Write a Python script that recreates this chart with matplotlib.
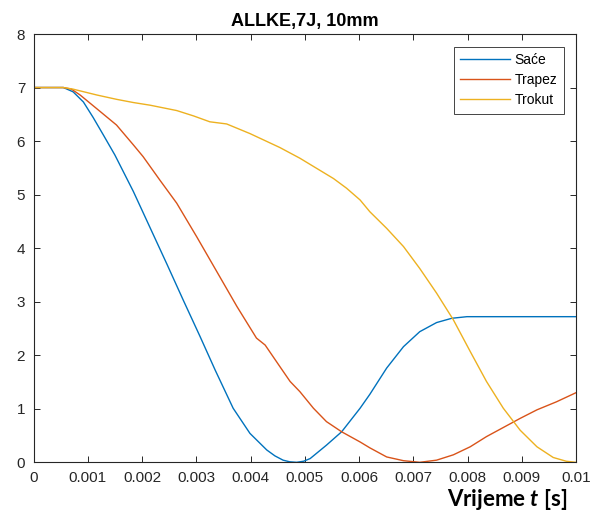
import matplotlib
matplotlib.use("Agg")
import matplotlib.pyplot as plt

# ---- data ----
t_sace = [0, 0.00055, 0.00073, 0.00092, 0.0011, 0.00129, 0.0015, 0.00184, 0.00215,
          0.00246, 0.00276, 0.00307, 0.00335, 0.00368, 0.00399, 0.0043, 0.00445, 0.0046,
          0.00472, 0.00485, 0.00498, 0.0051, 0.0054, 0.00568, 0.00602, 0.0062, 0.00651,
          0.00682, 0.00712, 0.00743, 0.00771, 0.00799, 0.01]
y_sace = [7, 7, 6.92, 6.73, 6.44, 6.11, 5.74, 5.06, 4.38,
          3.70, 3.03, 2.35, 1.72, 1.01, 0.54, 0.23, 0.12, 0.04,
          0.01, 0.0, 0.02, 0.07, 0.32, 0.57, 1.01, 1.27, 1.76,
          2.16, 2.44, 2.61, 2.69, 2.72, 2.72]

t_trapez = [0, 0.00055, 0.0007, 0.00086, 0.00116, 0.00153, 0.00184, 0.00202, 0.00233,
            0.00264, 0.00301, 0.00338, 0.00375, 0.00411, 0.00427, 0.00454, 0.00473, 0.00491,
            0.00516, 0.0054, 0.00568, 0.00602, 0.0062, 0.00651, 0.00682, 0.00712, 0.00743,
            0.00774, 0.00805, 0.00835, 0.00866, 0.00897, 0.00928, 0.00964, 0.01]
y_trapez = [7, 7, 6.97, 6.86, 6.61, 6.30, 5.93, 5.71, 5.27,
            4.84, 4.21, 3.56, 2.91, 2.32, 2.19, 1.79, 1.51, 1.32,
            1.01, 0.76, 0.57, 0.38, 0.27, 0.10, 0.03, 0.0, 0.04,
            0.14, 0.29, 0.48, 0.65, 0.82, 0.98, 1.13, 1.30]

t_trokut = [0, 0.00055, 0.00073, 0.00117, 0.00153, 0.00184, 0.00215, 0.00264, 0.00295,
            0.00325, 0.00356, 0.00399, 0.00454, 0.00491, 0.00522, 0.00553, 0.00577, 0.00602,
            0.0062, 0.00651, 0.00682, 0.00712, 0.00743, 0.00774, 0.00805, 0.00835, 0.00866,
            0.00897, 0.00928, 0.00958, 0.00982, 0.01]
y_trokut = [7, 7, 6.97, 6.86, 6.78, 6.72, 6.67, 6.57, 6.47,
            6.36, 6.32, 6.14, 5.88, 5.68, 5.49, 5.30, 5.12, 4.90,
            4.68, 4.37, 4.03, 3.62, 3.16, 2.66, 2.07, 1.51, 1.01,
            0.60, 0.29, 0.09, 0.02, 0.0]

labels = ["Saće", "Trapez", "Trokut"]
colors = ["#0072BD", "#D95319", "#EDB120"]
x_ticks = [0, 0.001, 0.002, 0.003, 0.004, 0.005, 0.006, 0.007, 0.008, 0.009, 0.01]
x_ticklabels = ["0", "0.001", "0.002", "0.003", "0.004", "0.005", "0.006", "0.007",
                "0.008", "0.009", "0.01"]
y_ticks = [0, 1, 2, 3, 4, 5, 6, 7, 8]
title = "ALLKE,7J, 10mm"

# ---- styling ----
plt.rcParams["font.family"] = ["Liberation Sans", "DejaVu Sans"]
plt.rcParams["mathtext.fontset"] = "custom"
plt.rcParams["mathtext.it"] = "Lato:italic:bold"
plt.rcParams["mathtext.rm"] = "Lato:bold"

axcol = "#262626"
fig = plt.figure(figsize=(5.95, 5.15), dpi=100)
ax = fig.add_axes([33.5 / 595, 1 - 462.3 / 515, (576 - 33.5) / 595, (462.3 - 34) / 515])

for t, y, lab, c in zip([t_sace, t_trapez, t_trokut], [y_sace, y_trapez, y_trokut], labels, colors):
    ax.plot(t, y, color=c, lw=1.0, label=lab)

ax.set_xlim(0, 0.01)
ax.set_ylim(0, 8)
ax.set_xticks(x_ticks)
ax.set_xticklabels(x_ticklabels)
ax.set_yticks(y_ticks)
ax.tick_params(direction="in", length=4, width=0.7, colors=axcol, labelsize=11,
               top=True, right=True, pad=6)
for s in ax.spines.values():
    s.set_color(axcol)
    s.set_linewidth(0.8)

ax.set_title(title, fontsize=13, fontweight="bold", pad=6)

fig.text(567 / 595, 1 - 499 / 515, r"Vrijeme $\mathit{t}$ [s]", fontsize=16,
         family="Lato", fontweight="bold", ha="right", va="center", color="black")

leg = ax.legend(loc="upper right", fontsize=10, handlelength=3.6, handletextpad=0.3,
                labelspacing=0.45, borderpad=0.45, borderaxespad=0.9, fancybox=False,
                framealpha=1, edgecolor=axcol)
leg.get_frame().set_linewidth(0.6)

fig.savefig("out.png", dpi=100)
